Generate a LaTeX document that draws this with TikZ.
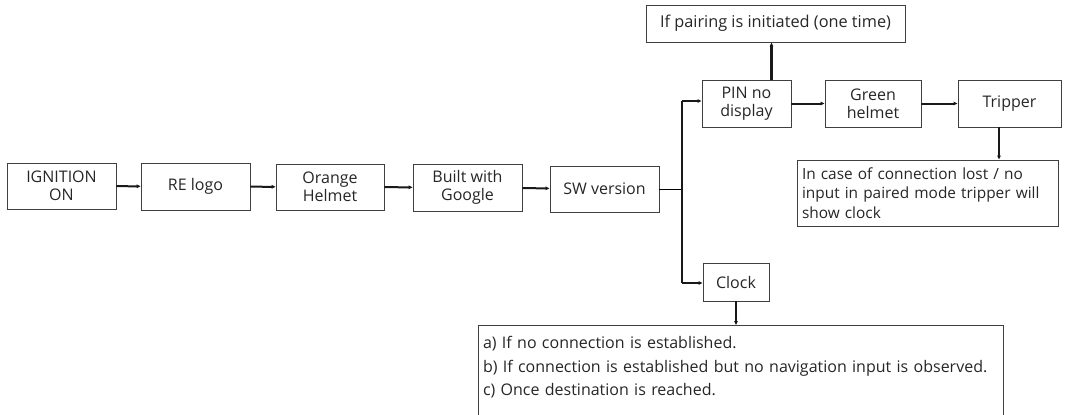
\documentclass[tikz,border=0pt]{standalone}
\usepackage{fontspec}
\setmainfont{Open Sans}
\usetikzlibrary{arrows.meta,calc}
\begin{document}
\begin{tikzpicture}[x=1pt,y=-1pt,
  box/.style={draw=black!75,line width=0.9pt,text=black!85,align=center,inner sep=2pt,
    font=\fontsize{16}{18}\selectfont},
  conn/.style={-{Triangle[length=4pt,width=3.6pt]},line width=2pt,black!90},
  thin/.style={line width=1.3pt,black!90}]
\useasboundingbox (0,0) rectangle (1071,415);
\node[box,minimum width=109,minimum height=46] (ign) at (61.5,186) {IGNITION\\ON};
\node[box,minimum width=109,minimum height=47] (re) at (195.5,186.5) {RE logo};
\node[box,minimum width=108,minimum height=46] (orange) at (330,187) {Orange\\Helmet};
\node[box,minimum width=109,minimum height=47] (built) at (467.5,187.5) {Built with\\Google};
\node[box,minimum width=109,minimum height=46] (sw) at (604.5,189) {SW version};
\node[box,minimum width=89,minimum height=47] (pin) at (746.5,103.5) {PIN no\\display};
\node[box,minimum width=96,minimum height=47] (green) at (873,103.5) {Green\\helmet};
\node[box,minimum width=103,minimum height=47] (trip) at (1009.5,103.5) {Tripper};
\node[box,minimum width=259,minimum height=37,font=\fontsize{16.3}{18}\selectfont] (pair) at (775.5,23.5) {If pairing is initiated (one time)};
\node[box,text width=251,align=left,inner xsep=5,minimum height=66,
  font=\fontsize{15.4}{19.5}\selectfont] (note) at (927.5,193)
  {In case of connection lost / no\\input in paired mode tripper will\\show clock};
\node[box,anchor=north,text width=515,align=left,inner xsep=5,inner ysep=11,
  font=\fontsize{16}{23.5}\selectfont] (big) at (740.5,325)
  {a) If no connection is established.\\
   b) If connection is established but no navigation input is observed.\\
   c) Once destination is reached.\rule[-30pt]{0pt}{0pt}};
\node[box,minimum width=66,minimum height=38] (clock) at (736,282) {Clock};
\coordinate (j) at (682,189);
\coordinate (jt) at (682,101);
\coordinate (jb) at (682,283);
\draw[conn] (ign) -- (re);
\draw[conn] (re) -- (orange);
\draw[conn] (orange) -- (built);
\draw[conn] (built) -- (sw);
\draw[line width=1pt] (sw.east |- j) -- (j);
\draw[thin] (jt) -- (jb);
\draw[thin,-{Triangle[length=4pt,width=3.6pt]}] (jt) -- (jt -| pin.west);
\draw[thin,-{Triangle[length=4pt,width=3.6pt]}] (jb) -- (jb -| clock.west);
\draw[conn] (pin) -- (green);
\draw[conn] (green) -- (trip);
\draw[conn,line width=2.8pt] ([xshift=25pt]pin.north) -- ([xshift=25pt]pin.north |- pair.south);
\draw[thin,-{Triangle[length=4pt,width=3.6pt]}] ([xshift=-10.5pt]trip.south) -- ([xshift=-10.5pt]trip.south |- note.north);
\draw[conn,line width=2.5pt] (clock.south) -- (clock.south |- big.north);
\end{tikzpicture}
\end{document}
